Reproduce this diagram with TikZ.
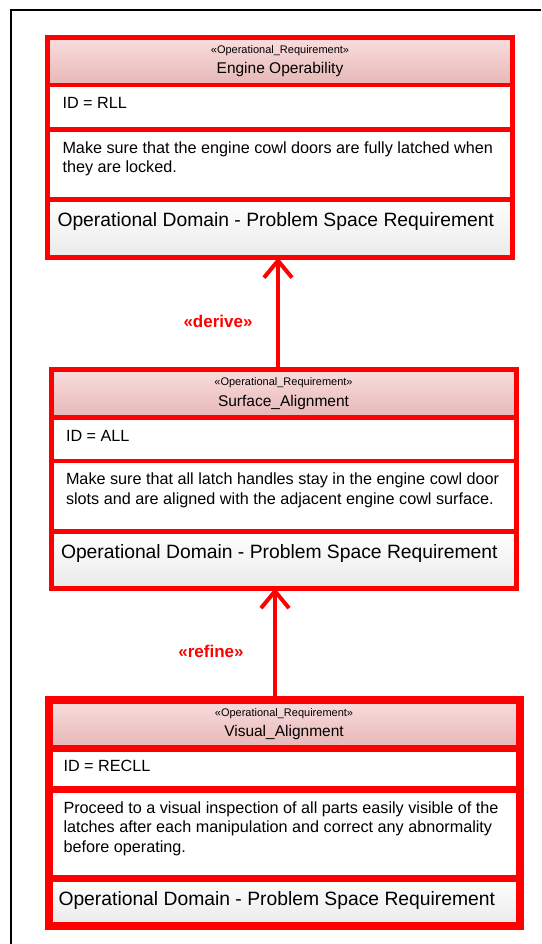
\documentclass[tikz,border=0pt]{standalone}
\usepackage{fontspec}
\setmainfont{Liberation Sans}
\usetikzlibrary{arrows.meta,positioning,calc}
\definecolor{reqred}{RGB}{255,0,0}
\definecolor{reqheadtop}{RGB}{250,222,222}
\definecolor{reqheadbot}{RGB}{230,182,182}
\definecolor{reqfoot}{RGB}{234,234,234}
\newcommand{\reqcell}[3]{\parbox[t][#1][t]{#2}{\strut#3}}
\newcommand{\reqkind}{{\fontsize{11}{13}\selectfont «Operational\_Requirement»}}
\tikzset{
  reqpart/.style={
    rectangle,
    draw=reqred,
    line width=4.5pt,
    outer sep=0pt,
    inner xsep=0pt,
    inner ysep=10pt,
    minimum width=465pt
  },
  reqhead/.style={
    reqpart,
    top color=reqheadtop,
    bottom color=reqheadbot,
    align=center,
    inner ysep=0pt,
    font=\fontsize{15.5}{20.5}\selectfont
  },
  reqfield/.style={
    reqpart,
    fill=white,
    font=\fontsize{16.2}{19.5}\selectfont
  },
  reqdomain/.style={
    reqpart,
    top color=white,
    bottom color=reqfoot,
    inner ysep=11pt,
    font=\fontsize{19.3}{23.4}\selectfont
  },
  reqframe/.style={
    draw=reqred,
    line width=5pt
  },
  reqarrow/.style={
    -{Straight Barb[length=17pt,width=28pt]},
    draw=reqred,
    line width=4pt
  },
  reqlabel/.style={
    text=reqred,
    font=\fontsize{17}{20}\selectfont\bfseries
  }
}

\begin{document}
\begin{tikzpicture}[x=1pt,y=-1pt]
  \useasboundingbox (0,0) rectangle (541,944);
  \draw[line width=2pt] (11,944) -- (11,10) -- (541,10);

  % Engine Operability
  \node[reqhead,anchor=north west,minimum height=47.5pt] (eoHead) at (47.5,37.5)
    {\reqkind\\Engine Operability};
  \node[reqfield,below=0pt of eoHead] (eoId) {\reqcell{24.5pt}{435pt}{ID = RLL}};
  \node[reqfield,below=0pt of eoId] (eoText) {\reqcell{50pt}{435pt}{Make sure that the engine cowl doors are fully latched when\\they are locked.}};
  \node[reqdomain,below=0pt of eoText] (eoDomain) {\reqcell{36pt}{445pt}{Operational Domain - Problem Space Requirement}};
  \draw[reqframe] (eoHead.north west) rectangle (eoDomain.south east);

  % Surface_Alignment
  \node[reqhead,anchor=north west,minimum height=48pt] (saHead) at (51,369.5)
    {\reqkind\\Surface\_Alignment};
  \node[reqfield,below=0pt of saHead] (saId) {\reqcell{23.5pt}{435pt}{ID = ALL}};
  \node[reqfield,below=0pt of saId] (saText) {\reqcell{50.5pt}{435pt}{Make sure that all latch handles stay in the engine cowl door\\slots and are aligned with the adjacent engine cowl surface.}};
  \node[reqdomain,below=0pt of saText] (saDomain) {\reqcell{34.5pt}{445pt}{Operational Domain - Problem Space Requirement}};
  \draw[reqframe] (saHead.north west) rectangle (saDomain.south east);

  % Visual_Alignment (selected, thicker lines)
  \node[reqhead,anchor=north west,line width=6.5pt,minimum width=471pt,minimum height=48.8pt] (vaHead) at (48.5,699.5)
    {\reqkind\\Visual\_Alignment};
  \node[reqfield,below=0pt of vaHead,line width=6.5pt,minimum width=471pt] (vaId) {\reqcell{21.4pt}{441pt}{ID = RECLL}};
  \node[reqfield,below=0pt of vaId,line width=6.5pt,minimum width=471pt] (vaText) {\reqcell{68.6pt}{441pt}{Proceed to a visual inspection of all parts easily visible of the\\latches after each manipulation and correct any abnormality\\before operating.}};
  \node[reqdomain,below=0pt of vaText,line width=6.5pt,minimum width=471pt] (vaDomain) {\reqcell{25.2pt}{451pt}{Operational Domain - Problem Space Requirement}};
  \draw[reqframe,line width=8pt] (vaHead.north west) rectangle (vaDomain.south east);

  \coordinate (deriveFoot) at ($(saHead.north)+(-5.5,0)$);
  \coordinate (refineFoot) at ($(vaHead.north)+(-9,0)$);
  \draw[reqarrow] (deriveFoot) -- (deriveFoot |- eoDomain.south);
  \draw[reqarrow] (refineFoot) -- (refineFoot |- saDomain.south);
  \node[reqlabel] (deriveLabel) at (218,321) {«derive»};
  \node[reqlabel] (refineLabel) at (211,651) {«refine»};
\end{tikzpicture}
\end{document}
